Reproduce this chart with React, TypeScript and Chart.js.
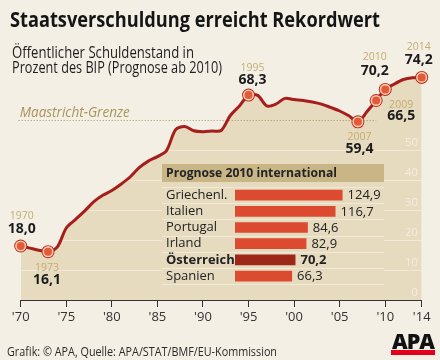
import React, { useEffect, useLayoutEffect, useRef } from 'react';
import { Chart, registerables } from 'chart.js';

Chart.register(...registerables);

// ---------- data ----------
const years = [
  1970, 1971, 1972, 1973, 1974, 1975, 1976, 1977, 1978, 1979,
  1980, 1981, 1982, 1983, 1984, 1985, 1986, 1987, 1988, 1989,
  1990, 1991, 1992, 1993, 1994, 1995, 1996, 1997, 1998, 1999,
  2000, 2001, 2002, 2003, 2004, 2005, 2006, 2007, 2008, 2009,
  2010, 2011, 2012, 2013, 2014,
];
const debt = [
  18.0, 17.3, 16.6, 16.1, 17.6, 24.0, 26.8, 29.6, 32.7, 34.9,
  36.5, 38.6, 41.0, 44.1, 46.3, 47.8, 49.8, 56.8, 57.8, 56.4,
  56.1, 56.3, 56.5, 61.5, 64.7, 68.3, 68.2, 64.7, 65.3, 67.2,
  66.8, 66.5, 66.0, 65.3, 64.2, 63.0, 61.4, 59.4, 62.8, 66.5,
  70.2, 72.0, 73.5, 74.1, 74.2,
];
const markedYears = [1970, 1973, 1995, 2007, 2009, 2010, 2014];
const xTickYears = [1970, 1975, 1980, 1985, 1990, 1995, 2000, 2005, 2010, 2014];
const xTickLabels = ["'70", "'75", "'80", "'85", "'90", "'95", "'00", "'05", "'10", "'14"];
const yTickValues = [0, 10, 20, 30, 40, 50];
const maastrichtLimit = 60;
const limitEndYear = 2009;

const countries = ['Griechenl.', 'Italien', 'Portugal', 'Irland', 'Österreich', 'Spanien'];
const forecast2010 = [124.9, 116.7, 84.6, 82.9, 70.2, 66.3];
const highlightCountry = 'Österreich';

const TITLE = 'Staatsverschuldung erreicht Rekordwert';
const SUBTITLE_1 = 'Öffentlicher Schuldenstand in';
const SUBTITLE_2 = 'Prozent des BIP (Prognose ab 2010)';
const INSET_TITLE = 'Prognose 2010 international';
const LIMIT_LABEL = 'Maastricht-Grenze';
const SOURCE = 'Grafik: © APA, Quelle: APA/STAT/BMF/EU-Kommission';
const LOGO = 'APA';

// ---------- style ----------
const FONT = "'Open Sans', 'Noto Sans', sans-serif";
const C = {
  bg: '#f4efe5',
  fill: '#e6dabf',
  grid: '#f0e9d8',
  line: '#a51e1b',
  dot: '#e35a3b',
  dotRing: '#f7cbab',
  dotEdge: '#b3271d',
  gold: '#c5ad70',
  limit: '#ab945c',
  text: '#1c1c1c',
  axis: '#333333',
  yTick: '#f4ede0',
  header: '#c9b687',
  bar: '#dc4b30',
  barHi: '#9d2819',
};

// label placement relative to marker: [dx, yearDy, valueDy]
const labelPlacement: Record<number, [number, number, number]> = {
  1970: [1, -29.5, -17],
  1973: [-1, 16, 28],
  1995: [4, -27, -15.5],
  2007: [1.5, 15.5, 27],
  2009: [25, 4.5, 16],
  2010: [-10.5, -32, -18],
  2014: [-3, -30, -17],
};

const fmt = (v: number) => v.toFixed(1).replace('.', ',');

function FitText({ text, width, style }: { text: string; width: number; style: React.CSSProperties }) {
  const ref = useRef<HTMLSpanElement>(null);
  useLayoutEffect(() => {
    const el = ref.current;
    if (!el) return;
    el.style.transform = 'none';
    const w = el.getBoundingClientRect().width;
    if (w > 0) el.style.transform = `scaleX(${width / w})`;
  }, [text, width]);
  return (
    <span
      ref={ref}
      style={{ display: 'inline-block', whiteSpace: 'nowrap', transformOrigin: '0 0', ...style }}
    >
      {text}
    </span>
  );
}

export default function App() {
  const mainRef = useRef<HTMLCanvasElement>(null);
  const insetRef = useRef<HTMLCanvasElement>(null);

  useEffect(() => {
    const pts = years.map((x, i) => ({ x, y: debt[i] }));
    const isMarked = (c: any) => c.dataIndex !== undefined && markedYears.includes(years[c.dataIndex]);

    const mainPlugin = {
      id: 'mainDecor',
      afterDatasetDraw(chart: any, args: any) {
        if (args.index !== 0) return;
        const { ctx, chartArea, scales } = chart;
        const ys = scales.y;
        const xs = scales.x;
        ctx.save();
        ctx.globalCompositeOperation = 'source-atop';
        ctx.strokeStyle = C.grid;
        ctx.lineWidth = 1;
        yTickValues.forEach((v) => {
          if (v === 0) return;
          const y = Math.round(ys.getPixelForValue(v)) + 0.5;
          ctx.beginPath();
          ctx.moveTo(chartArea.left, y);
          ctx.lineTo(chartArea.right + 2, y);
          ctx.stroke();
        });
        ctx.restore();
        const yl = Math.round(ys.getPixelForValue(maastrichtLimit)) + 0.5;
        ctx.save();
        ctx.strokeStyle = C.limit;
        ctx.lineWidth = 1;
        ctx.setLineDash([1, 2]);
        ctx.beginPath();
        ctx.moveTo(chartArea.left - 2, yl);
        ctx.lineTo(xs.getPixelForValue(limitEndYear), yl);
        ctx.stroke();
        ctx.setLineDash([]);
        ctx.fillStyle = C.limit;
        ctx.font = `italic 14px ${FONT}`;
        ctx.textAlign = 'left';
        ctx.textBaseline = 'alphabetic';
        ctx.fillText(LIMIT_LABEL, chartArea.left - 1, yl - 4, 110);
        ctx.restore();
      },
      afterDatasetsDraw(chart: any) {
        const { ctx } = chart;
        const meta = chart.getDatasetMeta(2);
        ctx.save();
        ctx.textAlign = 'center';
        ctx.textBaseline = 'middle';
        markedYears.forEach((yr) => {
          const i = years.indexOf(yr);
          const el = meta.data[i];
          if (!el) return;
          const [dx, yDy, vDy] = labelPlacement[yr] || [0, -28, -16];
          ctx.fillStyle = C.gold;
          ctx.font = `10.5px ${FONT}`;
          ctx.fillText(String(yr), el.x + dx, el.y + yDy);
          ctx.fillStyle = C.text;
          ctx.font = `bold 14px ${FONT}`;
          ctx.fillText(fmt(debt[i]), el.x + dx, el.y + vDy);
        });
        ctx.restore();
      },
    };

    const main = new Chart(mainRef.current!, {
      type: 'line',
      data: {
        datasets: [
          {
            data: pts,
            borderWidth: 0,
            pointRadius: 0,
            fill: 'origin',
            backgroundColor: C.fill,
            tension: 0.3,
            order: 3,
          } as any,
          {
            data: pts,
            borderColor: C.line,
            borderWidth: 3,
            fill: false,
            tension: 0.3,
            pointRadius: (c: any) => (isMarked(c) ? 6.5 : 0),
            pointBackgroundColor: C.dotEdge,
            pointBorderWidth: 0,
            clip: false,
            order: 2,
          } as any,
          {
            data: pts,
            showLine: false,
            pointRadius: (c: any) => (isMarked(c) ? 4.8 : 0),
            pointBackgroundColor: C.dot,
            pointBorderColor: C.dotRing,
            pointBorderWidth: 1.6,
            clip: false,
            order: 1,
          } as any,
        ],
      },
      options: {
        animation: false,
        responsive: false,
        events: [],
        layout: { padding: { left: 20.7, right: 0, top: 60, bottom: 0 } },
        plugins: { legend: { display: false }, tooltip: { enabled: false }, title: { display: false } },
        scales: {
          x: {
            type: 'linear',
            min: years[0],
            max: years[years.length - 1],
            afterBuildTicks: (s: any) => {
              s.ticks = xTickYears.map((v) => ({ value: v }));
            },
            ticks: {
              autoSkip: false,
              maxRotation: 0,
              color: C.axis,
              font: { family: FONT, size: 13 },
              padding: 2,
              callback: (_v: any, i: number) => xTickLabels[i],
            },
            grid: { drawOnChartArea: false, drawTicks: true, tickLength: 7, color: C.axis, lineWidth: 1 },
            border: { display: true, color: C.axis, width: 1 },
            afterFit: (s: any) => {
              s.height = 60;
            },
          },
          y: {
            type: 'linear',
            position: 'right',
            min: 0,
            max: 80,
            afterBuildTicks: (s: any) => {
              s.ticks = yTickValues.map((v) => ({ value: v }));
            },
            ticks: {
              z: 1,
              autoSkip: false,
              mirror: true,
              color: C.yTick,
              font: { family: FONT, size: 11 },
              padding: -4,
              labelOffset: -7,
            },
            grid: { display: false },
            border: { display: false },
            afterFit: (s: any) => {
              s.width = 18.3;
            },
          },
        },
      } as any,
      plugins: [mainPlugin],
    });

    const insetPlugin = {
      id: 'insetDecor',
      beforeDraw(chart: any) {
        const { ctx, chartArea, width } = chart;
        const w = width - 3;
        ctx.save();
        ctx.fillStyle = C.fill;
        ctx.fillRect(0, 19, w, chart.height - 19);
        const n = countries.length;
        const rowH = (chartArea.bottom - chartArea.top) / n;
        ctx.strokeStyle = C.grid;
        ctx.lineWidth = 1;
        for (let i = 0; i <= n; i++) {
          const y = Math.round(chartArea.top + i * rowH) + 0.5;
          ctx.beginPath();
          ctx.moveTo(0, y);
          ctx.lineTo(w, y);
          ctx.stroke();
        }
        ctx.fillStyle = C.header;
        ctx.fillRect(0, 0, w, 18);
        ctx.fillStyle = '#242424';
        ctx.font = `bold 13px ${FONT}`;
        ctx.textAlign = 'left';
        ctx.textBaseline = 'middle';
        ctx.fillText(INSET_TITLE, 4, 9.5, 171);
        ctx.restore();
      },
      afterDatasetsDraw(chart: any) {
        const { ctx } = chart;
        const meta = chart.getDatasetMeta(0);
        ctx.save();
        ctx.textAlign = 'left';
        ctx.textBaseline = 'middle';
        ctx.fillStyle = '#222222';
        meta.data.forEach((bar: any, i: number) => {
          const hi = countries[i] === highlightCountry;
          ctx.font = `${hi ? 'bold ' : ''}13px ${FONT}`;
          ctx.fillText(fmt(forecast2010[i]), bar.x + 5, bar.y + 0.5);
        });
        ctx.restore();
      },
    };

    const inset = new Chart(insetRef.current!, {
      type: 'bar',
      data: {
        labels: countries,
        datasets: [
          {
            data: forecast2010,
            backgroundColor: countries.map((c) => (c === highlightCountry ? C.barHi : C.bar)),
            barPercentage: 0.66,
            categoryPercentage: 1,
          },
        ],
      },
      options: {
        indexAxis: 'y',
        animation: false,
        responsive: false,
        events: [],
        layout: { padding: { top: 23, left: 4, right: 3, bottom: 1 } },
        plugins: { legend: { display: false }, tooltip: { enabled: false } },
        scales: {
          x: { display: false, min: 0, max: 173 },
          y: {
            ticks: {
              autoSkip: false,
              crossAlign: 'far',
              color: '#232323',
              padding: 0,
              font: (c: any) => ({
                family: FONT,
                size: 13,
                weight: countries[c.index] === highlightCountry ? 'bold' : 'normal',
              }),
            },
            grid: { display: false },
            border: { display: false },
            afterFit: (s: any) => {
              s.width = 69;
            },
          },
        },
      } as any,
      plugins: [insetPlugin],
    });

    return () => {
      main.destroy();
      inset.destroy();
    };
  }, []);

  return (
    <div
      style={{
        position: 'absolute',
        left: 0,
        top: 0,
        width: 440,
        height: 360,
        background: C.bg,
        overflow: 'hidden',
        fontFamily: FONT,
      }}
    >
      <canvas ref={mainRef} width={440} height={360} style={{ position: 'absolute', left: 0, top: 0 }} />
      <canvas ref={insetRef} width={225} height={128} style={{ position: 'absolute', left: 162, top: 164 }} />
      <div style={{ position: 'absolute', left: 10, top: 9.4, lineHeight: '21px' }}>
        <FitText text={TITLE} width={370} style={{ fontSize: 21, fontWeight: 700, color: '#151515' }} />
      </div>
      <div style={{ position: 'absolute', left: 12, top: 45.3, lineHeight: '15.5px' }}>
        <FitText text={SUBTITLE_1} width={182} style={{ fontSize: 15.5, color: '#1e1e1e' }} />
      </div>
      <div style={{ position: 'absolute', left: 12, top: 60.2, lineHeight: '15.5px' }}>
        <FitText text={SUBTITLE_2} width={210} style={{ fontSize: 15.5, color: '#1e1e1e' }} />
      </div>
      <div style={{ position: 'absolute', left: 7, top: 344, lineHeight: '12px' }}>
        <FitText text={SOURCE} width={270} style={{ fontSize: 12, color: '#2a2a2a' }} />
      </div>
      <div style={{ position: 'absolute', left: 392, top: 331.4, lineHeight: '21px' }}>
        <FitText text={LOGO} width={42} style={{ fontSize: 21, fontWeight: 800, color: '#111', letterSpacing: -1 }} />
      </div>
      <div style={{ position: 'absolute', left: 391, top: 350, width: 44, height: 4.5, background: '#e2001a' }} />
    </div>
  );
}
